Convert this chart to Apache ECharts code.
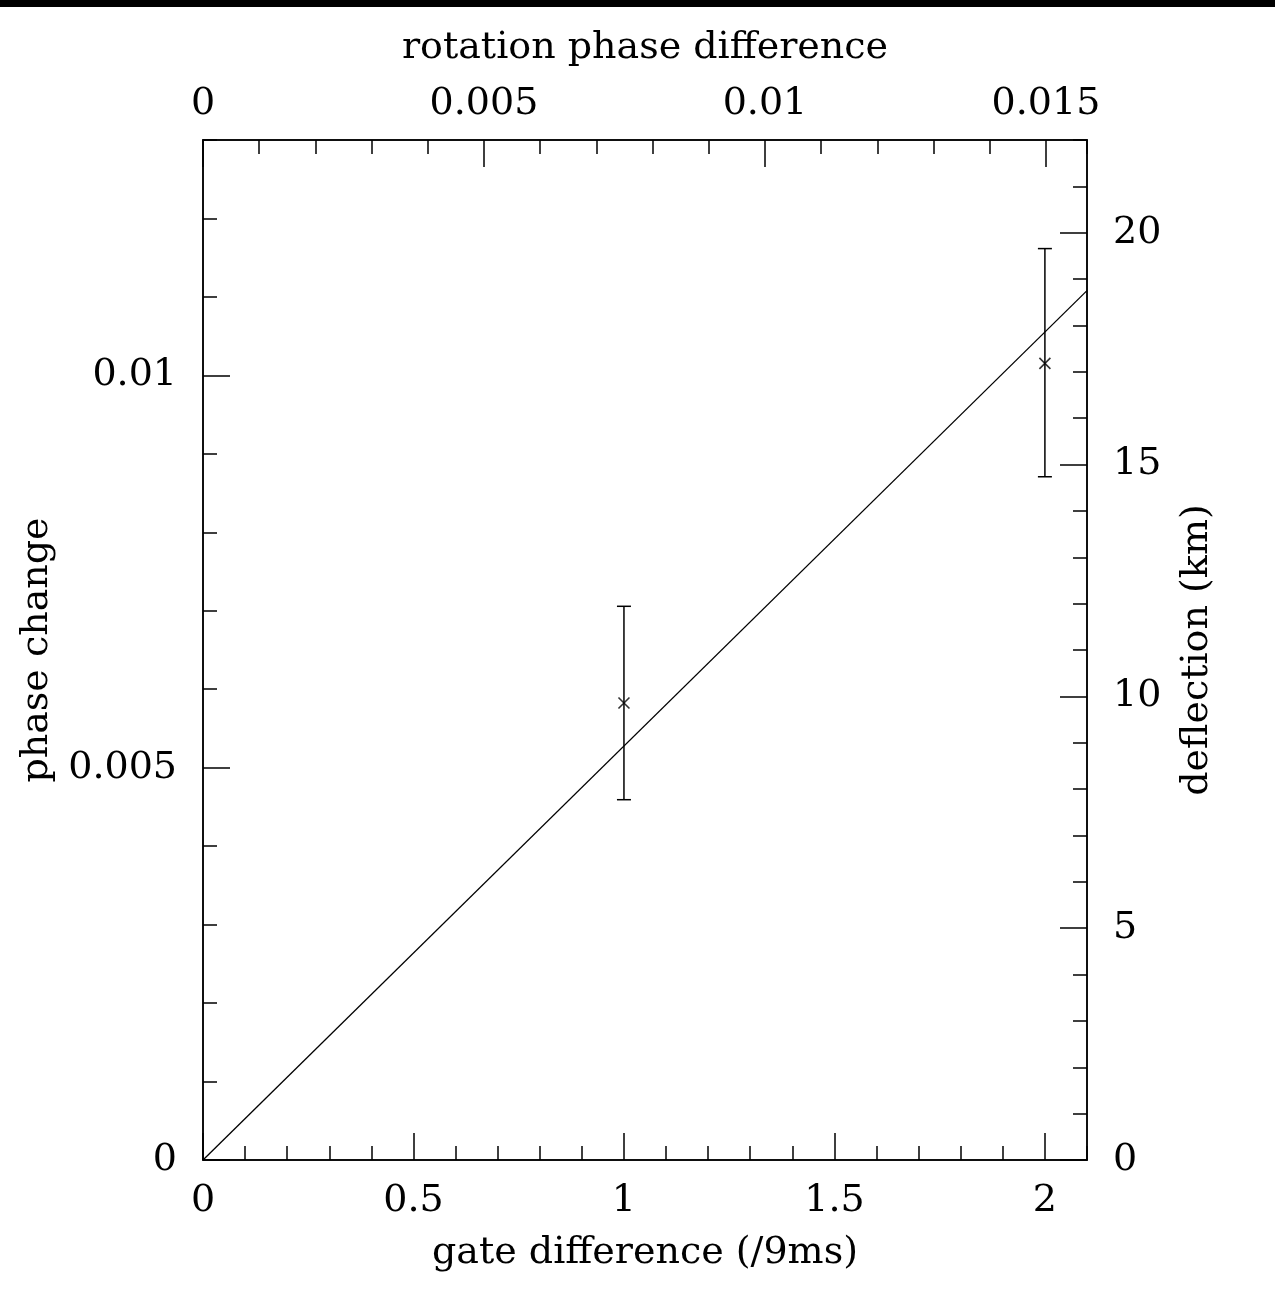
<!DOCTYPE html>
<html>
<head>
<meta charset="utf-8">
<script src="https://cdn.jsdelivr.net/npm/echarts@6/dist/echarts.min.js"></script>
<style>
  html, body { margin: 0; padding: 0; background: #fff; }
  #chart { width: 1275px; height: 1314px; }
</style>
</head>
<body>
<div id="chart"></div>
<script>
// measured points (gate difference vs phase change) with error bars
const gate = [1, 2];
const phase = [0.005825, 0.010153];
const errLow = [0.004592, 0.008708];
const errHigh = [0.007057, 0.011616];

// fitted straight line through origin
const fitX = [0, 2.1];
const fitY = [0, 0.01108];

const font = 'DejaVu Serif';
const fs = 38;

const chart = echarts.init(document.getElementById('chart'));

const lineStyle = {color: '#000', width: 1.5};
const nameStyle = {color: '#000', fontFamily: font, fontSize: fs};

function minorAxis(pos, min, max, interval) {
    return {
        type: 'value', position: pos, min: min, max: max, interval: interval,
        axisLine: {show: true, onZero: false, lineStyle: lineStyle},
        axisTick: {show: true, inside: true, length: 14, lineStyle: lineStyle},
        axisLabel: {show: false},
        splitLine: {show: false}
    };
}

function majorAxis(pos, min, max, interval, name, gap, margin, pad) {
    return {
        type: 'value', position: pos, min: min, max: max, interval: interval,
        name: name, nameLocation: 'middle', nameGap: gap, nameTextStyle: nameStyle,
        axisLine: {show: true, onZero: false, lineStyle: lineStyle},
        axisTick: {show: true, inside: true, length: 27, lineStyle: lineStyle},
        axisLabel: {
            margin: margin, showMaxLabel: false, padding: pad,
            color: '#000', fontFamily: font, fontSize: fs,
            formatter: v => String(+v.toPrecision(6))
        },
        splitLine: {show: false}
    };
}

const option = {
    backgroundColor: '#fff',
    animation: false,
    grid: {left: 203, right: 188, top: 140, bottom: 154},
    graphic: [{
        type: 'rect', left: 0, top: 0,
        shape: {width: 1275, height: 7},
        style: {fill: '#000'}
    }],
    xAxis: [
        minorAxis('bottom', 0, 2.1, 0.1),
        majorAxis('bottom', 0, 2.1, 0.5, 'gate difference (/9ms)', 74, 22, 0),
        minorAxis('top', 0, 0.01573, 0.001),
        majorAxis('top', 0, 0.01573, 0.005, 'rotation phase difference', 73, 17, 0)
    ],
    yAxis: [
        minorAxis('left', 0, 0.013, 0.001),
        majorAxis('left', 0, 0.013, 0.005, 'phase change', 147, 26, [6, 0, 0, 0]),
        minorAxis('right', 0, 22, 1),
        majorAxis('right', 0, 22, 5, 'deflection (km)', 91, 26, [8, 0, 0, 0])
    ],
    series: [
        {
            type: 'line',
            xAxisIndex: 1, yAxisIndex: 1,
            data: fitX.map((x, i) => [x, fitY[i]]),
            symbol: 'none',
            lineStyle: {color: '#000', width: 1.3}
        },
        {
            type: 'custom',
            xAxisIndex: 1, yAxisIndex: 1,
            data: gate.map((g, i) => [g, errLow[i], errHigh[i]]),
            renderItem: (params, api) => {
                const lo = api.coord([api.value(0), api.value(1)]);
                const hi = api.coord([api.value(0), api.value(2)]);
                const w = 7;
                const st = {stroke: '#000', lineWidth: 1.5};
                return {
                    type: 'group',
                    children: [
                        {type: 'line', shape: {x1: lo[0], y1: lo[1], x2: hi[0], y2: hi[1]}, style: st},
                        {type: 'line', shape: {x1: lo[0] - w, y1: lo[1], x2: lo[0] + w, y2: lo[1]}, style: st},
                        {type: 'line', shape: {x1: hi[0] - w, y1: hi[1], x2: hi[0] + w, y2: hi[1]}, style: st}
                    ]
                };
            }
        },
        {
            type: 'scatter',
            xAxisIndex: 1, yAxisIndex: 1,
            data: gate.map((g, i) => [g, phase[i]]),
            symbol: 'path://M0,0L10,10M10,0L0,10',
            symbolSize: 11,
            itemStyle: {color: 'none', borderColor: '#000', borderWidth: 1.6}
        }
    ]
};

chart.setOption(option);
</script>
</body>
</html>
